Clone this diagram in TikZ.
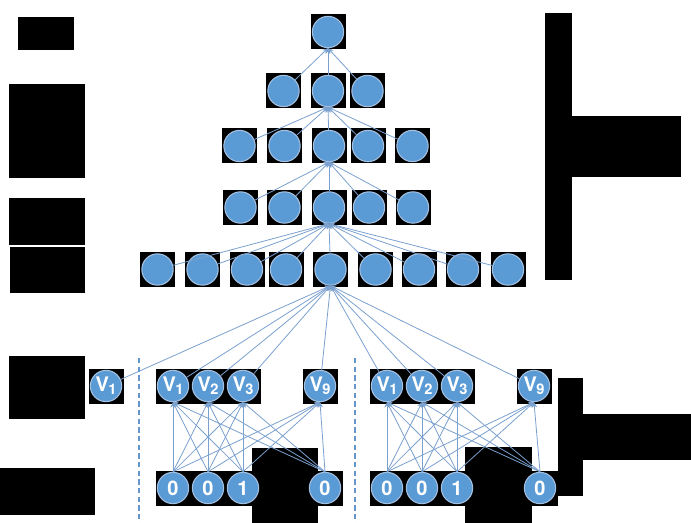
\documentclass[tikz,border=0pt]{standalone}
\usepackage{fontspec}
\setsansfont{TeX Gyre Heros}
\usetikzlibrary{arrows.meta,backgrounds}
\definecolor{unitblue}{RGB}{91,155,213}
\definecolor{unitrim}{RGB}{165,192,225}
\definecolor{linkblue}{RGB}{122,160,206}
\definecolor{sepblue}{RGB}{98,150,205}
\tikzset{
	>=Stealth,
	unit/.style={
		circle,
		fill=unitblue,
		draw=unitrim, thick,
		minimum size=23.5pt,
		inner sep=0pt,
		text=white,
		font=\sffamily\bfseries\fontsize{15}{15}\selectfont,
		text centered},
	link/.style={
		-{Stealth[length=4pt,width=4pt]},
		draw=linkblue,
		line width=0.6pt},
	sep/.style={
		draw=sepblue,
		line width=1.1pt,
		dash pattern=on 4pt off 2.5pt},
	pad/.style={
		fill=black}
}
\newcommand{\vlab}[1]{V\kern-0.5pt\raisebox{-0.25ex}{\fontsize{11}{11}\selectfont #1}}

\begin{document}
\begin{tikzpicture}[x=0.75pt,y=0.75pt,yscale=-1,xscale=1]
\useasboundingbox (0,0) rectangle (691,523);

% Side boxes
\fill[pad] (18,17) rectangle (74,50);
\fill[pad] (9,84) rectangle (85,178);
\fill[pad] (9,198) rectangle (85,245);
\fill[pad] (10,247) rectangle (85,293);
\fill[pad] (9,356) rectangle (85,419);
\fill[pad] (0,468) rectangle (95,515);
\fill[pad] (545,13) rectangle (572,280);
\fill[pad] (572,116) rectangle (681,177);
\fill[pad] (252,448) rectangle (318,523);
\fill[pad] (465,447) rectangle (532,523);
\fill[pad] (558,378) rectangle (583,496);
\fill[pad] (583,414) rectangle (691,460);

% Tree
\node[unit] (a1) at (328,32) {};
\foreach \x [count=\i] in {283.5,328,367.5}
	\node[unit] (b\i) at (\x,91) {};
\foreach \x [count=\i] in {239.5,284.5,329,368,412.5}
	\node[unit] (c\i) at (\x,146) {};
\foreach \x [count=\i] in {240.5,284.5,329,369,413}
	\node[unit] (d\i) at (\x,207.5) {};
\foreach \x [count=\i] in {157.5,202.5,247,286,330.5,375.5,419,463,508}
	\node[unit] (e\i) at (\x,269.5) {};

% Visible units
\node[unit] (v0) at (106,386) {\vlab{1}};
\node[unit] (p1) at (173,386) {\vlab{1}};
\node[unit] (p2) at (208,386) {\vlab{2}};
\node[unit] (p3) at (243,386) {\vlab{3}};
\node[unit] (p9) at (320,386) {\vlab{9}};
\node[unit] (q1) at (387,386) {\vlab{1}};
\node[unit] (q2) at (422,386) {\vlab{2}};
\node[unit] (q3) at (457,386) {\vlab{3}};
\node[unit] (q9) at (534,386) {\vlab{9}};

% Inputs
\node[unit] (r1) at (173,488) {0};
\node[unit] (r2) at (208,488) {0};
\node[unit] (r3) at (243,488) {1};
\node[unit] (r9) at (325,488) {0};
\node[unit] (s1) at (387,488) {0};
\node[unit] (s2) at (422,488) {0};
\node[unit] (s3) at (457,488) {1};
\node[unit] (s9) at (540,488) {0};

\begin{scope}[on background layer]
\foreach \n in {a1,b1,b2,b3,c1,c2,c3,c4,c5,d1,d2,d3,d4,d5,
	e1,e2,e3,e4,e5,e6,e7,e8,e9,v0,p1,p2,p3,p9,q1,q2,q3,q9,
	r1,r2,r3,r9,s1,s2,s3,s9}
	\fill[pad] (\n.center) +(-17.5,-17.5) rectangle +(17.5,17.5);
\end{scope}

% Links
\foreach \i in {1,2,3}
	\draw[link] (b\i) -- (a1.south);
\foreach \i in {1,...,5}
	\draw[link] (c\i) -- (b2.south);
\foreach \i in {1,...,5}
	\draw[link] (d\i) -- (c3.south);
\foreach \i in {1,...,9}
	\draw[link] (e\i) -- (d3.south);
\foreach \n in {v0,p1,p2,p3,p9,q1,q2,q3,q9}
	\draw[link] (\n) -- (e5.south);
\foreach \i in {1,2,3,9}
	\foreach \j in {1,2,3,9}{
		\draw[link] (r\i.north) -- (p\j.south);
		\draw[link] (s\i.north) -- (q\j.south);
	}

% Dashed separators
\draw[sep] (139,358) -- (139,523);
\draw[sep] (355,358) -- (355,523);
\end{tikzpicture}
\end{document}
